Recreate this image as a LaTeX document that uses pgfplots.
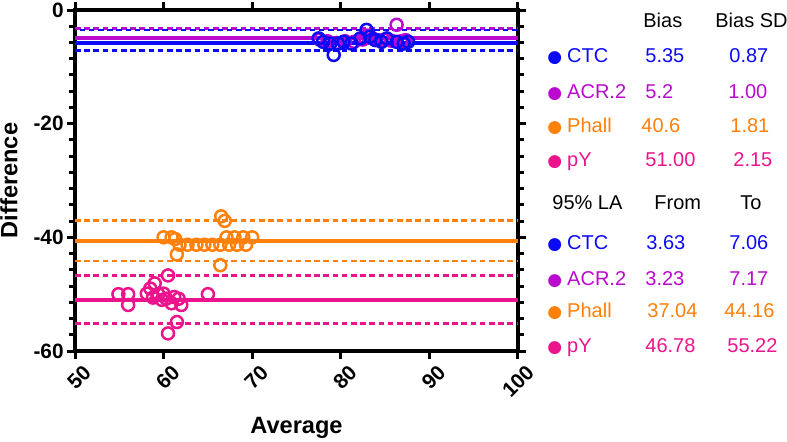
\documentclass[border=0pt]{standalone}
\usepackage{pgfplots}
\pgfplotsset{compat=1.18}
\usepackage{fontspec}
\setmainfont{Liberation Sans}
\newfontfamily\dejavu{DejaVu Sans}
\definecolor{ctc}{RGB}{10,10,245}
\definecolor{acr}{RGB}{185,10,205}
\definecolor{phall}{RGB}{255,128,10}
\definecolor{py}{RGB}{236,20,140}
\pgfplotstableread{
x y
77.5 -5.0
78.0 -5.6
78.8 -5.9
79.2 -7.9
79.7 -5.9
80.3 -5.6
81.2 -5.9
82.2 -5.0
82.9 -3.5
83.3 -4.7
83.9 -5.3
84.6 -5.6
85.2 -5.0
86.3 -5.6
87.1 -5.9
87.6 -5.6
}\ctcdata
\pgfplotstableread{
x y
77.6 -5.2
78.5 -5.5
79.5 -5.8
80.5 -5.5
81.5 -5.6
82.5 -5.2
83.0 -4.5
83.6 -5.0
84.3 -5.3
85.0 -5.2
85.7 -5.4
86.3 -2.6
86.8 -5.5
87.3 -5.3
}\acrdata
\pgfplotstableread{
x y
60.0 -40.0
60.9 -40.0
61.3 -40.3
61.5 -43.0
61.8 -41.3
62.7 -41.3
63.7 -41.3
64.6 -41.3
65.5 -41.3
66.4 -41.3
66.5 -36.3
66.9 -37.1
66.4 -44.9
67.1 -40.0
67.4 -41.3
68.0 -40.0
68.3 -41.3
69.0 -40.0
69.3 -41.3
70.0 -40.0
}\phalldata
\pgfplotstableread{
x y
54.9 -50.0
56.0 -50.0
56.0 -51.9
58.1 -49.9
58.5 -49.0
58.8 -50.6
59.0 -48.1
59.4 -50.0
59.8 -51.0
60.0 -49.9
60.3 -50.8
60.5 -46.7
60.5 -56.9
60.9 -51.6
61.2 -50.5
61.5 -54.9
61.7 -50.8
62.0 -51.9
65.0 -50.0
}\pydata
\begin{document}
\begin{tikzpicture}
\useasboundingbox (0,0) rectangle (393.5pt,220.5pt);
\begin{axis}[
  at={(37.5pt,45pt)}, anchor=south west,
  width=221.5pt, height=170.5pt, scale only axis,
  xmin=50, xmax=100, ymin=-60, ymax=0,
  xtick={50,60,70,80,90,100},
  xticklabels={50,60,70,80,90,100},
  ytick={-60,-40,-20,0},
  yticklabels={-60,-40,-20,0},
  minor y tick num=6,
  tick align=outside, tick pos=both,
  axis line style={line width=1.6pt},
  every tick/.style={black, line width=1.5pt},
  major tick length=4pt, minor tick length=3pt,
  ticklabel style={font=\fontsize{10.4}{12}\selectfont\bfseries},
  xticklabel style={rotate=45, anchor=north east, inner sep=1pt, yshift=-3pt, xshift=2pt},
  yticklabel style={inner sep=1.5pt},
  xlabel={Average}, ylabel={Difference},
  label style={font=\fontsize{11.8}{14}\selectfont\bfseries},
  xlabel style={at={(axis description cs:0.5,-0.226)}, anchor=center},
  ylabel style={at={(axis description cs:-0.149,0.5)}, anchor=center},
  clip=false,
]
% limits of agreement (dashed)
\addplot[py, line width=1.4pt, dash pattern=on 2.8pt off 1.8pt] coordinates {(50,-46.78) (100,-46.78)};
\addplot[py, line width=1.4pt, dash pattern=on 2.8pt off 1.8pt] coordinates {(50,-55.22) (100,-55.22)};
\addplot[phall, line width=1.4pt, dash pattern=on 2.8pt off 1.8pt] coordinates {(50,-37.04) (100,-37.04)};
\addplot[phall, line width=1.4pt, dash pattern=on 2.8pt off 1.8pt] coordinates {(50,-44.16) (100,-44.16)};
\addplot[acr, line width=1.4pt, dash pattern=on 2.8pt off 1.8pt] coordinates {(50,-3.23) (100,-3.23)};
\addplot[acr, line width=1.4pt, dash pattern=on 2.8pt off 1.8pt] coordinates {(50,-7.17) (100,-7.17)};
\addplot[ctc, line width=1.4pt, dash pattern=on 2.8pt off 1.8pt, dash phase=2.3pt] coordinates {(50,-3.53) (100,-3.53)};
\addplot[ctc, line width=1.4pt, dash pattern=on 2.8pt off 1.8pt] coordinates {(50,-7.06) (100,-7.06)};
% bias (solid)
\addplot[py, line width=2pt] coordinates {(50,-51.0) (100,-51.0)};
\addplot[phall, line width=2pt] coordinates {(50,-40.6) (100,-40.6)};
\addplot[acr, line width=2pt] coordinates {(50,-5.0) (100,-5.0)};
\addplot[ctc, line width=2pt] coordinates {(50,-5.85) (100,-5.85)};
% points
\addplot[only marks, mark=o, mark size=3pt, py, mark options={line width=1.25pt}] table {\pydata};
\addplot[only marks, mark=o, mark size=3pt, phall, mark options={line width=1.25pt}] table {\phalldata};
\addplot[only marks, mark=o, mark size=3pt, acr, mark options={line width=1.25pt}] table {\acrdata};
\addplot[only marks, mark=o, mark size=3pt, ctc, mark options={line width=1.25pt}] table {\ctcdata};
\end{axis}
\begin{scope}[every node/.style={inner sep=0pt, anchor=base west, font=\fontsize{10}{12}\selectfont}]
% header block 1
\node at (321.5pt,206.9pt) {Bias};
\node at (357.5pt,206.9pt) {Bias SD};
\node[text=ctc] at (273.5pt,189.4pt) {{\dejavu\fontsize{8.5}{10}\selectfont●}\kern2.5pt CTC};
\node[text=acr] at (273.5pt,171.4pt) {{\dejavu\fontsize{8.5}{10}\selectfont●}\kern2.5pt ACR.2};
\node[text=phall] at (273.5pt,154.4pt) {{\dejavu\fontsize{8.5}{10}\selectfont●}\kern2.5pt Phall};
\node[text=py] at (273.5pt,137.4pt) {{\dejavu\fontsize{8.5}{10}\selectfont●}\kern2.5pt pY};
\node[text=ctc] at (322.5pt,189.4pt) {5.35};
\node[text=acr] at (322.5pt,171.4pt) {5.2};
\node[text=phall] at (320.5pt,154.4pt) {40.6};
\node[text=py] at (322.5pt,137.4pt) {51.00};
\node[text=ctc] at (364.5pt,189.4pt) {0.87};
\node[text=acr] at (364pt,171.4pt) {1.00};
\node[text=phall] at (365pt,154.4pt) {1.81};
\node[text=py] at (366.5pt,137.4pt) {2.15};
% header block 2
\node at (276pt,115.9pt) {95\% LA};
\node at (327pt,115.9pt) {From};
\node at (370pt,115.9pt) {To};
\node[text=ctc] at (273.5pt,95.9pt) {{\dejavu\fontsize{8.5}{10}\selectfont●}\kern2.5pt CTC};
\node[text=acr] at (273.5pt,77.9pt) {{\dejavu\fontsize{8.5}{10}\selectfont●}\kern2.5pt ACR.2};
\node[text=phall] at (273.5pt,61.9pt) {{\dejavu\fontsize{8.5}{10}\selectfont●}\kern2.5pt Phall};
\node[text=py] at (273.5pt,44.4pt) {{\dejavu\fontsize{8.5}{10}\selectfont●}\kern2.5pt pY};
\node[text=ctc] at (323pt,95.9pt) {3.63};
\node[text=acr] at (322.5pt,77.9pt) {3.23};
\node[text=phall] at (323.5pt,61.9pt) {37.04};
\node[text=py] at (322.5pt,44.4pt) {46.78};
\node[text=ctc] at (364.5pt,95.9pt) {7.06};
\node[text=acr] at (364.5pt,77.9pt) {7.17};
\node[text=phall] at (362pt,61.9pt) {44.16};
\node[text=py] at (363.5pt,44.4pt) {55.22};
\end{scope}
\end{tikzpicture}
\end{document}
